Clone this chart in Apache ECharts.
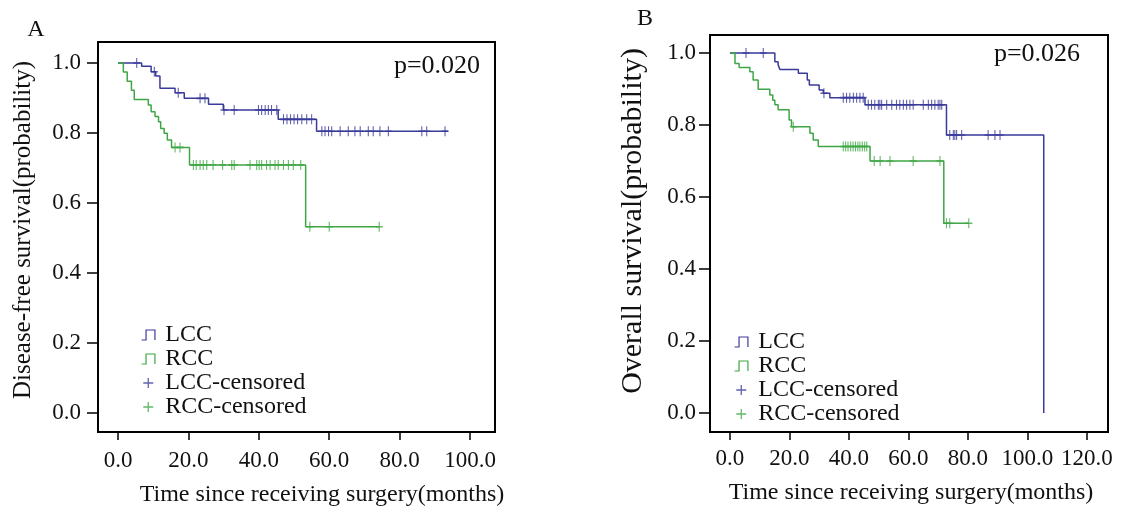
<!DOCTYPE html>
<html>
<head>
<meta charset="utf-8">
<script src="https://cdn.jsdelivr.net/npm/echarts@6/dist/echarts.min.js"></script>
<style>html,body{margin:0;padding:0;background:#fff;}#c{width:1129px;height:508px;}</style>
</head>
<body>
<div id="c"></div>
<script>
// ---------- Data ----------
// Panel A: Disease-free survival
const A_LCC_t = [0, 6.7, 9.4, 10.7, 11.9, 16.2, 18.8, 25.7, 29.9, 45.5, 56.4, 93.8];
const A_LCC_s = [1.0, 0.991, 0.975, 0.963, 0.928, 0.915, 0.899, 0.882, 0.866, 0.839, 0.805, 0.805];
const A_LCC_cens = [5.3, 10.3, 17.1, 23.3, 24.7, 30.1, 33.0, 39.9, 40.8, 41.8, 42.7, 43.6, 45.1, 47.0, 48.0, 49.0, 50.0, 51.0, 52.2, 53.6, 55.0, 57.9, 58.8, 59.8, 60.7, 63.1, 65.4, 67.3, 68.8, 71.1, 72.5, 74.4, 76.8, 86.3, 87.7, 92.9];
const A_RCC_t = [0, 1.5, 2.6, 3.8, 4.6, 8.6, 9.4, 10.5, 11.5, 12.1, 13.1, 14.0, 15.2, 20.3, 53.3, 74.2];
const A_RCC_s = [1.0, 0.974, 0.948, 0.922, 0.896, 0.880, 0.861, 0.847, 0.832, 0.813, 0.799, 0.780, 0.759, 0.709, 0.532, 0.532];
const A_RCC_cens = [16.2, 17.6, 21.4, 22.2, 23.3, 24.2, 25.2, 27.0, 29.7, 32.3, 33.0, 37.5, 39.4, 40.1, 40.8, 42.2, 43.2, 44.6, 45.5, 47.0, 48.4, 49.8, 51.9, 54.5, 60.0, 74.2];
// Panel B: Overall survival
const B_LCC_t = [0, 15.1, 16.2, 16.8, 23.0, 26.0, 26.7, 30.0, 31.4, 33.6, 45.4, 72.8, 105.5];
const B_LCC_s = [1.0, 0.976, 0.967, 0.954, 0.944, 0.925, 0.911, 0.897, 0.888, 0.876, 0.856, 0.772, 0.0];
const B_LCC_cens = [5.4, 11.2, 31.6, 38.1, 39.2, 40.3, 41.5, 42.6, 43.7, 44.8, 46.5, 47.6, 48.7, 49.9, 50.4, 51.0, 52.7, 54.4, 56.0, 57.1, 58.3, 59.4, 60.5, 61.6, 65.0, 66.7, 67.8, 68.9, 70.0, 70.6, 71.2, 73.9, 75.1, 75.6, 76.2, 77.9, 86.8, 89.1, 90.8];
const B_RCC_t = [0, 1.7, 3.1, 6.7, 7.8, 9.5, 13.4, 14.4, 15.1, 16.2, 19.9, 20.7, 26.9, 28.0, 29.7, 47.1, 71.9, 80.3];
const B_RCC_s = [1.0, 0.971, 0.960, 0.948, 0.925, 0.899, 0.883, 0.869, 0.856, 0.842, 0.814, 0.795, 0.777, 0.758, 0.740, 0.700, 0.527, 0.527];
const B_RCC_cens = [21.3, 38.1, 38.9, 39.7, 40.6, 41.4, 42.2, 43.0, 43.7, 44.5, 45.3, 46.0, 48.5, 50.5, 53.8, 61.6, 70.6, 72.8, 73.9, 80.3];

const xTicksA = [0, 20, 40, 60, 80, 100];
const xTicksB = [0, 20, 40, 60, 80, 100, 120];
const yTicks = [0, 0.2, 0.4, 0.6, 0.8, 1.0];
const legendNames = ['LCC', 'RCC', 'LCC-censored', 'RCC-censored'];
const pA = 'p=0.020', pB = 'p=0.026';

// ---------- Helpers ----------
const BLUE = '#3a3a9c', GREEN = '#3ea644';
const FONT = '"Liberation Serif", "Times New Roman", serif';
function pairs(t, s) { return t.map((v, i) => [v, s[i]]); }
function onCurve(ct, t, s) {
  return ct.map(c => { let v = s[0]; for (let i = 0; i < t.length; i++) { if (t[i] <= c) v = s[i]; } return [c, v]; });
}
const PLUS = 'path://M0,5L10,5M5,0L5,10';
const STEP = 'path://M0,10L4,10L4,1L12,1L12,10';

function lineSeries(name, data, color, idx) {
  return { name, type: 'line', step: 'end', data, xAxisIndex: idx, yAxisIndex: idx, showSymbol: false, symbol: 'none',
    lineStyle: { color, width: 1.5 }, itemStyle: { color }, silent: true, animation: false, z: 3 };
}
function censSeries(name, data, color, idx) {
  return { name, type: 'scatter', data, xAxisIndex: idx, yAxisIndex: idx, symbol: PLUS, symbolSize: [7, 10],
    itemStyle: { color: 'transparent', borderColor: color, borderWidth: 1.3 }, silent: true, animation: false, z: 4 };
}
function xAxis(idx, min, max, ticks, margin) {
  return { type: 'value', gridIndex: idx, min, max, position: 'bottom', splitLine: { show: false }, axisLine: { show: false, onZero: false },
    axisTick: { show: true, inside: false, length: 8, customValues: ticks, lineStyle: { color: '#000', width: 1.5 } },
    axisLabel: { customValues: ticks, margin, color: '#111', fontFamily: FONT, fontSize: 23, formatter: v => v.toFixed(1) } };
}
function yAxis(idx, min, max, margin) {
  return { type: 'value', gridIndex: idx, min, max, position: 'left', splitLine: { show: false }, axisLine: { show: false, onZero: false },
    axisTick: { show: true, inside: false, length: 11, customValues: yTicks, lineStyle: { color: '#000', width: 1.5 } },
    axisLabel: { customValues: yTicks, margin, color: '#111', fontFamily: FONT, fontSize: 23, formatter: v => v.toFixed(1) } };
}
function legendData() {
  return [
    { name: legendNames[0], icon: STEP, itemStyle: { color: 'transparent', borderColor: BLUE, borderWidth: 1.2 } },
    { name: legendNames[1], icon: STEP, itemStyle: { color: 'transparent', borderColor: GREEN, borderWidth: 1.2 } },
    { name: legendNames[2], icon: PLUS, itemStyle: { color: 'transparent', borderColor: BLUE, borderWidth: 1.3 } },
    { name: legendNames[3], icon: PLUS, itemStyle: { color: 'transparent', borderColor: GREEN, borderWidth: 1.3 } }
  ];
}
function legend(left, top) {
  return { orient: 'vertical', left, top, itemGap: 0, itemWidth: 16, itemHeight: 10, selectedMode: false,
    data: legendData(), textStyle: { fontFamily: FONT, fontSize: 24, color: '#111', lineHeight: 24, padding: [0, 0, 0, 4] } };
}
function txt(x, y, text, size, rot, align) {
  return { type: 'text', x, y, rotation: rot || 0, silent: true,
    style: { text, fontFamily: FONT, fontSize: size, fill: '#111', align: align || 'center', verticalAlign: 'middle' } };
}

const chart = echarts.init(document.getElementById('c'), null, { renderer: 'canvas' });
chart.setOption({
  animation: false,
  backgroundColor: '#fff',
  grid: [
    { left: 98, top: 42, width: 397, height: 390, show: true, borderColor: '#000', borderWidth: 2, backgroundColor: 'transparent' },
    { left: 710, top: 35, width: 398, height: 397, show: true, borderColor: '#000', borderWidth: 2, backgroundColor: 'transparent' }
  ],
  xAxis: [xAxis(0, -5.7, 107.1, xTicksA, 17), xAxis(1, -6.7, 127.1, xTicksB, 15)],
  yAxis: [yAxis(0, -0.054, 1.06, 17), yAxis(1, -0.053, 1.05, 14)],
  legend: [legend(136, 318), legend(729, 325)],
  series: [
    lineSeries('LCC', pairs(A_LCC_t, A_LCC_s), BLUE, 0),
    lineSeries('RCC', pairs(A_RCC_t, A_RCC_s), GREEN, 0),
    censSeries('LCC-censored', onCurve(A_LCC_cens, A_LCC_t, A_LCC_s), BLUE, 0),
    censSeries('RCC-censored', onCurve(A_RCC_cens, A_RCC_t, A_RCC_s), GREEN, 0),
    lineSeries('LCC', pairs(B_LCC_t, B_LCC_s), BLUE, 1),
    lineSeries('RCC', pairs(B_RCC_t, B_RCC_s), GREEN, 1),
    censSeries('LCC-censored', onCurve(B_LCC_cens, B_LCC_t, B_LCC_s), BLUE, 1),
    censSeries('RCC-censored', onCurve(B_RCC_cens, B_RCC_t, B_RCC_s), GREEN, 1)
  ],
  graphic: [
    txt(36, 30, 'A', 24),
    txt(645, 19, 'B', 24),
    txt(437, 66, pA, 26),
    txt(1037, 54, pB, 26),
    txt(322, 495, 'Time since receiving surgery(months)', 24),
    txt(911, 493, 'Time since receiving surgery(months)', 24),
    txt(23, 230, 'Disease-free survival(probability)', 25, Math.PI / 2),
    txt(633, 221, 'Overall survival(probability)', 30, Math.PI / 2)
  ]
});
</script>
</body>
</html>
